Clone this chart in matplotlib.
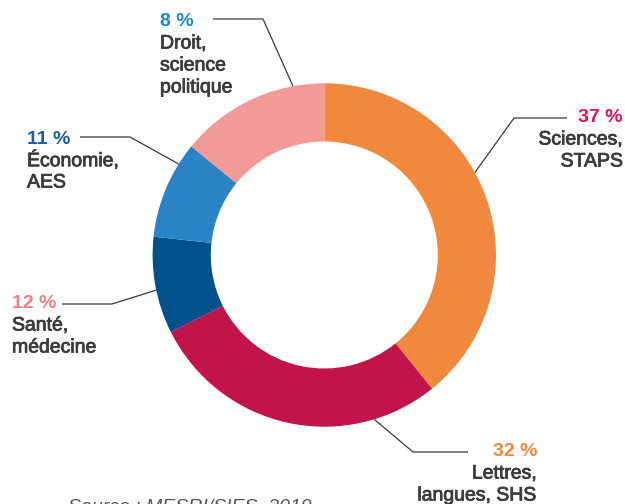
import numpy as np
import matplotlib.pyplot as plt
import matplotlib.patheffects as pe

plt.rcParams['font.family'] = ['Liberation Sans', 'DejaVu Sans']

W, H = 625, 504

# données
categories = [['Sciences,', 'STAPS'], ['Lettres,', 'langues, SHS'], ['Santé,', 'médecine'],
              ['Économie,', 'AES'], ['Droit,', 'science', 'politique']]
pct_labels = ['37 %', '32 %', '12 %', '11 %', '8 %']
# parts de l'anneau telles que dessinées (en %)
shares = [39.2, 28.4, 9.1, 9.2, 14.1]

colors = ['#f0883e', '#c0144a', '#00508a', '#2a83c4', '#f09b98']
pct_colors = ['#e2105a', '#f0883e', '#f07f85', '#1a5e99', '#1b8bd1']
txt_color = '#3c3c3c'

# mise en page (pixels)
cx, cy = 324.3, 255
R, r_in = 171.7, 113.5
anchor_deg = [61.3, 163.1, 258.2, 302, 349.5]
elbow = [(514, 118), (413, 452), (112, 304), (130, 137), (263, 19)]
line_end = [567, 468, 62, 80, 213]
text_pos = [(623, 118), (537, 452), (12, 304), (27, 139), (160, 22)]
text_ha = ['right', 'right', 'left', 'left', 'left']
step = 22

fig = plt.figure(figsize=(W / 100, H / 100), dpi=100)
ax = fig.add_axes([0, 0, 1, 1])

ax.pie(shares, radius=R, center=(cx, H - cy), startangle=90, counterclock=False,
       colors=colors, wedgeprops=dict(width=R - r_in, linewidth=0))

for i in range(len(shares)):
    a = np.deg2rad(anchor_deg[i])
    x0 = cx + R * np.sin(a)
    y0 = (H - cy) + R * np.cos(a)
    ex, ey = elbow[i]
    ax.plot([x0, ex, line_end[i]], [y0, H - ey, H - ey], color='#3a3a3a', lw=0.9,
            solid_capstyle='butt', zorder=1)
    tx, ty = text_pos[i]
    ax.text(tx, H - ty, pct_labels[i], ha=text_ha[i], va='center', fontsize=14,
            fontweight='bold', color=pct_colors[i])
    for j, line in enumerate(categories[i]):
        ax.text(tx, H - ty - step * (j + 1), line, ha=text_ha[i], va='center',
                fontsize=14, color=txt_color,
                path_effects=[pe.withStroke(linewidth=0.6, foreground=txt_color)])

ax.text(68, H - 499, 'Source : MESRI/SIES, 2019', ha='left', va='top', fontsize=14,
        style='italic', color='#555555')

ax.set_xlim(0, W)
ax.set_ylim(0, H)
ax.set_aspect('equal')
ax.axis('off')

plt.savefig('out.png', dpi=100)
